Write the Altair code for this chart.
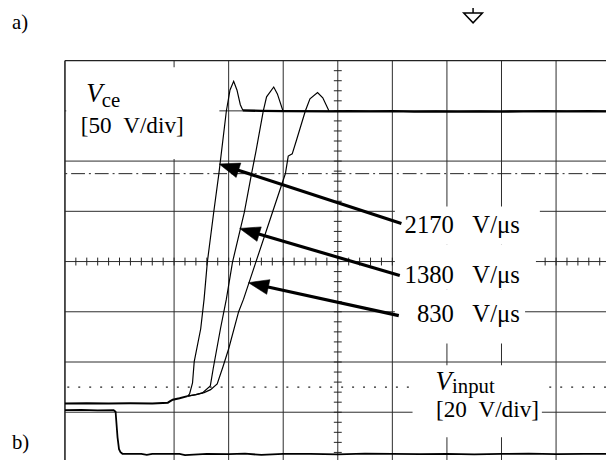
import math
import altair as alt
import pandas as pd
import numpy as np

# ---------------- data (units: divisions of the scope screen) ----------------
# common Vce foot before the rising edges
base_t = [0.00, 0.40, 0.80, 1.20, 1.60, 1.886, 1.93, 1.976, 2.10, 2.248]
base_v = [1.175, 1.18, 1.172, 1.178, 1.175, 1.19, 1.22, 1.25, 1.28, 1.32]

# three Vce edges (2170, 1380, 830 V/us)
c1_t = [2.284, 2.338, 2.369, 2.488, 2.550, 2.609, 2.727, 2.821, 2.958, 3.025, 3.092, 3.152, 3.214, 3.260]
c1_v = [1.365, 1.582, 2.008, 2.662, 3.251, 3.984, 4.986, 5.752, 6.998, 7.417, 7.587, 7.417, 7.122, 7.014]
c2_t = [2.40, 2.519, 2.664, 2.718, 2.850, 2.958, 3.070, 3.288, 3.420, 3.501, 3.635, 3.695, 3.826, 3.893, 3.996]
c2_v = [1.35, 1.385, 1.523, 1.876, 2.662, 3.251, 3.984, 4.986, 5.752, 6.198, 6.998, 7.279, 7.475, 7.338, 6.998]
c3_t = [2.40, 2.55, 2.669, 2.790, 2.899, 3.002, 3.183, 3.273, 3.497, 3.805, 4.040, 4.092, 4.165, 4.237,
        4.405, 4.490, 4.629, 4.725, 4.839]
c3_v = [1.35, 1.39, 1.450, 1.562, 1.916, 2.269, 3.002, 3.251, 3.984, 4.986, 5.752, 6.100, 6.145, 6.395,
        6.998, 7.240, 7.363, 7.259, 6.998]

# settled Vce level
flat_t = [3.26, 3.6, 4.0, 4.84, 5.2, 5.6, 6.0, 6.4, 6.8, 7.2, 7.6, 8.0, 8.4, 8.8, 9.2, 9.6, 9.915]
flat_v = [7.01, 7.0, 6.995, 6.99, 6.995, 6.99, 6.995, 6.985, 6.99, 6.985, 6.99, 6.985, 6.99, 6.995, 6.99, 6.995, 6.99]

# gate input signal
in_t = [0.0, 0.3, 0.6, 0.893, 0.928, 0.964, 0.991, 1.018, 1.054, 1.4, 1.5, 1.6, 2.1, 2.2, 2.6, 3.0,
        3.3, 3.6, 4.0, 4.5, 5.0, 5.5, 6.0, 6.5, 7.0, 7.5, 8.0, 8.5, 9.0, 9.5, 9.915]
in_v = [1.04, 1.045, 1.035, 1.04, 1.01, 0.50, 0.265, 0.206, 0.173, 0.17, 0.15, 0.17, 0.17, 0.145, 0.17, 0.165,
        0.175, 0.15, 0.17, 0.17, 0.16, 0.175, 0.17, 0.165, 0.17, 0.16, 0.17, 0.175, 0.165, 0.17, 0.17]

# slope annotations
slope_labels = ["2170\u00a0\u00a0\u00a0V/\u03bcs", "1380\u00a0\u00a0\u00a0V/\u03bcs", "830\u00a0\u00a0\u00a0V/\u03bcs"]
arrow_tail_t = [6.166, 6.136, 6.118]
arrow_tail_v = [4.758, 3.723, 2.923]
arrow_tip_t = [2.826, 3.201, 3.363]
arrow_tip_v = [5.943, 4.660, 3.580]

grid_t = [0, 2, 3, 4, 5, 6, 7, 8, 9]
grid_v = [1, 2, 3, 4, 5, 6, 7]
level_dashdot = 5.75
level_dotted = 1.5
trigger_t = 7.479

# ---------------- layout ----------------
X_MAX, Y_MIN, Y_MAX = 9.915, 0.049, 8.0
PX_X, PX_Y = 55.3, 50.9
W = X_MAX * PX_X
H = (Y_MAX - Y_MIN) * PX_Y
FONT = "Liberation Serif"

xs = alt.Scale(domain=[0, X_MAX], nice=False, zero=False)
ys = alt.Scale(domain=[Y_MIN, Y_MAX], nice=False, zero=False)


def X(f="t"):
    return alt.X(f, type="quantitative", scale=xs, axis=None)


def Y(f="v"):
    return alt.Y(f, type="quantitative", scale=ys, axis=None)


def df_line(ts, vs, name):
    return pd.DataFrame({"t": ts, "v": vs, "trace": name, "i": range(len(ts))})


GRID = "#2a2a2a"
vgrid = alt.Chart(pd.DataFrame({"t": grid_t})).mark_rule(stroke=GRID, strokeWidth=1).encode(x=X())
hgrid = alt.Chart(pd.DataFrame({"v": grid_v})).mark_rule(stroke=GRID, strokeWidth=1).encode(y=Y())
dashdot = alt.Chart(pd.DataFrame({"v": [level_dashdot]})).mark_rule(
    stroke="#222", strokeWidth=1, strokeDash=[14, 4, 2, 4]).encode(y=Y())
dotted = alt.Chart(pd.DataFrame({"v": [level_dotted]})).mark_rule(
    stroke="#222", strokeWidth=1.5, strokeDash=[2, 9.1]).encode(y=Y())

# centre-axis minor ticks
tick_len_x = 4.0 / PX_X
tick_len_y = 4.0 / PX_Y
tv = np.round(np.arange(0.2, 8.0, 0.2), 2)
tt = np.round(np.arange(0.2, 10.0, 0.2), 2)
vt = pd.DataFrame({"v": tv, "t0": 5 - tick_len_x, "t1": 5 + tick_len_x})
ht = pd.DataFrame({"t": tt, "v0": 4 - tick_len_y, "v1": 4 + tick_len_y})
vticks = alt.Chart(vt).mark_rule(stroke="#222", strokeWidth=1).encode(x=X("t0"), x2="t1", y=Y())
hticks = alt.Chart(ht).mark_rule(stroke="#222", strokeWidth=1).encode(x=X(), y=Y("v0"), y2="v1")

# white backgrounds behind labels
boxes = pd.DataFrame({
    "t0": [0.024, 6.046, 6.046, 6.046, 6.370],
    "t1": [2.83, 8.703, 8.631, 8.432, 8.740],
    "v0": [6.041, 4.332, 3.448, 2.367, 0.501],
    "v1": [7.868, 5.098, 4.332, 3.448, 1.935],
})
bg = alt.Chart(boxes).mark_rect(fill="white", stroke=None).encode(
    x=X("t0"), x2="t1", y=Y("v0"), y2="v1")

border_v = alt.Chart(pd.DataFrame({"t": [0]})).mark_rule(stroke="#222", strokeWidth=1.2).encode(x=X())
border_h = alt.Chart(pd.DataFrame({"v": [8]})).mark_rule(stroke="#222", strokeWidth=1.2).encode(y=Y())

# traces
hb = (base_t[-1], base_v[-1])
curves = pd.concat([
    df_line([hb[0]] + c1_t, [hb[1]] + c1_v, "2170"),
    df_line([hb[0]] + c2_t, [hb[1]] + c2_v, "1380"),
    df_line([hb[0]] + c3_t, [hb[1]] + c3_v, "830"),
])
edge = alt.Chart(curves).mark_line(stroke="black", strokeWidth=1.2, clip=True).encode(
    x=X(), y=Y(), detail="trace:N", order="i:Q")
foot = alt.Chart(df_line(base_t, base_v, "base")).mark_line(stroke="black", strokeWidth=2.0, clip=True).encode(
    x=X(), y=Y(), order="i:Q")
top = alt.Chart(df_line(flat_t, flat_v, "top")).mark_line(stroke="black", strokeWidth=2.4, clip=True).encode(
    x=X(), y=Y(), order="i:Q")
inp = alt.Chart(df_line(in_t, in_v, "input")).mark_line(stroke="black", strokeWidth=1.8, clip=True).encode(
    x=X(), y=Y(), order="i:Q")

# arrows
rows = []
for lab, t0, v0, t1, v1 in zip(slope_labels, arrow_tail_t, arrow_tail_v, arrow_tip_t, arrow_tip_v):
    dx = (t1 - t0) * PX_X
    dy = -(v1 - v0) * PX_Y
    L = math.hypot(dx, dy)
    ux, uy = dx / L, dy / L
    ang = math.degrees(math.atan2(dx, -dy)) % 360
    rows.append({"t0": t0, "v0": v0, "te": t1 - 12 * ux / PX_X, "ve": v1 + 12 * uy / PX_Y,
                 "t": t1, "v": v1, "ang": ang})
arr = pd.DataFrame(rows)
shafts = alt.Chart(arr).mark_rule(stroke="black", strokeWidth=3.2).encode(
    x=X("t0"), x2="te", y=Y("v0"), y2="ve")
heads = alt.Chart(arr).mark_point(shape="M0,0L-0.37,1L0.37,1Z", filled=True, fill="black",
                                  stroke="black", strokeWidth=0.5, size=1700, opacity=1).encode(
    x=X(), y=Y(), angle=alt.Angle("ang:Q", scale=None))

# text
slope_df = pd.DataFrame({"t": [8.336, 8.336, 8.336], "v": [4.562, 3.580, 2.806], "text": slope_labels})
slope_txt = alt.Chart(slope_df).mark_text(font=FONT, fontSize=25, align="right", baseline="alphabetic",
                                          color="black").encode(x=X(), y=Y(), text="text:N")

reg_df = pd.DataFrame({
    "t": [0.674, 0.289, 7.094, 6.799],
    "v": [7.083, 6.558, 1.385, 0.908],
    "text": ["ce", "[50\u00a0\u00a0V/div]", "input", "[20\u00a0\u00a0V/div]"],
    "size": [21, 23.5, 21, 23.5],
})
reg_txt = alt.Chart(reg_df).mark_text(font=FONT, align="left", baseline="alphabetic", color="black").encode(
    x=X(), y=Y(), text="text:N", size=alt.Size("size:Q", scale=None))

ital_df = pd.DataFrame({"t": [0.39, 6.79], "v": [7.181, 1.45], "text": ["V", "V"]})
ital_txt = alt.Chart(ital_df).mark_text(font=FONT, fontSize=27, fontStyle="italic", align="left",
                                        baseline="alphabetic", color="black").encode(x=X(), y=Y(), text="text:N")

panel_df = pd.DataFrame({"t": [-0.97, -0.97], "v": [8.635, 0.265], "text": ["a)", "b)"]})
panel_txt = alt.Chart(panel_df).mark_text(font=FONT, fontSize=21, align="left", baseline="alphabetic",
                                          color="black", clip=False).encode(x=X(), y=Y(), text="text:N")

# trigger marker above the screen
trig_stem = alt.Chart(pd.DataFrame({"t": [trigger_t], "v0": [8.949], "v1": [9.2]})).mark_rule(
    stroke="black", strokeWidth=1.5).encode(x=X(), y=Y("v0"), y2="v1")
trig_head = alt.Chart(pd.DataFrame({"t": [trigger_t], "v": [8.949]})).mark_point(
    shape="M-0.95,0L0.95,0L0,1Z", filled=False, stroke="black", strokeWidth=1.5, size=400, opacity=1).encode(
    x=X(), y=Y())

chart = alt.layer(
    vgrid, hgrid, dashdot, dotted, vticks, hticks, bg, border_v, border_h,
    foot, edge, top, inp, shafts, heads, slope_txt, reg_txt, ital_txt, panel_txt, trig_stem, trig_head,
).properties(
    width=W, height=H,
    padding={"left": 57.7, "top": 50.3, "right": 0, "bottom": 0},
    autosize=alt.AutoSizeParams(type="none"),
    background="white",
).configure_view(strokeWidth=0)

chart.save("out.html", embed_options={"renderer": "svg", "actions": False})
